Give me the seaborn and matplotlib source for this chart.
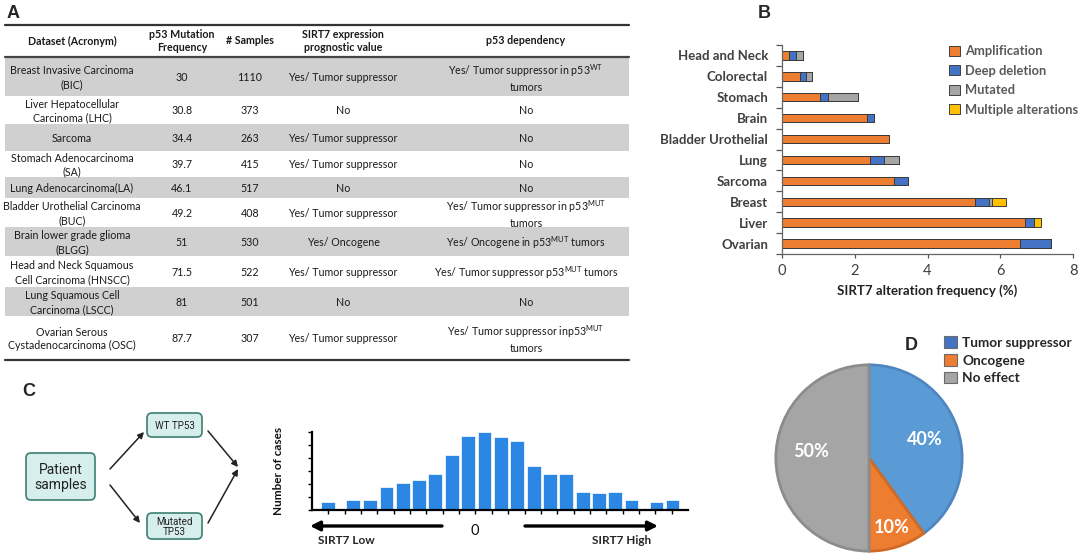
import numpy as np
import pandas as pd
import matplotlib
matplotlib.use("Agg")
import matplotlib.pyplot as plt
import seaborn as sns
from matplotlib.patches import FancyBboxPatch, Rectangle, Patch

# ---------------- data ----------------
# Panel A table
table_header = ["Dataset (Acronym)", "p53 Mutation\nFrequency", "# Samples",
                "SIRT7 expression\nprognostic value", "p53 dependency"]
datasets = ["Breast Invasive Carcinoma\n(BIC)", "Liver Hepatocellular\nCarcinoma (LHC)", "Sarcoma",
            "Stomach Adenocarcinoma\n(SA)", "Lung Adenocarcinoma(LA)",
            "Bladder Urothelial Carcinoma\n(BUC)", "Brain lower grade glioma\n(BLGG)",
            "Head and Neck Squamous\nCell Carcinoma (HNSCC)", "Lung Squamous Cell\nCarcinoma (LSCC)",
            "Ovarian Serous\nCystadenocarcinoma (OSC)"]
p53_mut_freq = ["30", "30.8", "34.4", "39.7", "46.1", "49.2", "51", "71.5", "81", "87.7"]
n_samples = ["1110", "373", "263", "415", "517", "408", "530", "522", "501", "307"]
prognostic = ["Yes/ Tumor suppressor", "No", "Yes/ Tumor suppressor", "Yes/ Tumor suppressor", "No",
              "Yes/ Tumor suppressor", "Yes/ Oncogene", "Yes/ Tumor suppressor", "No",
              "Yes/ Tumor suppressor"]
dependency = [r"Yes/ Tumor suppressor in p53$^{\mathrm{WT}}$" + "\ntumors", "No", "No", "No", "No",
              r"Yes/ Tumor suppressor in p53$^{\mathrm{MUT}}$" + "\ntumors",
              r"Yes/ Oncogene in p53$^{\mathrm{MUT}}$ tumors",
              r"Yes/ Tumor suppressor p53$^{\mathrm{MUT}}$ tumors", "No",
              r"Yes/ Tumor suppressor inp53$^{\mathrm{MUT}}$" + "\ntumors"]

# Panel B stacked bars
cancer_types = ["Head and Neck", "Colorectal", "Stomach", "Brain", "Bladder Urothelial",
                "Lung", "Sarcoma", "Breast", "Liver", "Ovarian"]
amplification = [0.18, 0.49, 1.04, 2.34, 2.94, 2.41, 3.08, 5.31, 6.68, 6.54]
deep_deletion = [0.20, 0.17, 0.22, 0.20, 0.00, 0.40, 0.39, 0.37, 0.25, 0.86]
mutated = [0.19, 0.16, 0.84, 0.00, 0.00, 0.40, 0.00, 0.09, 0.00, 0.00]
multiple_alt = [0.00, 0.00, 0.00, 0.00, 0.00, 0.00, 0.00, 0.40, 0.19, 0.00]
alteration_names = ["Amplification", "Deep deletion", "Mutated", "Multiple alterations"]

# Panel C histogram
sirt7_bins = [0, 1.53, 2.53, 3.55, 4.55, 5.55, 6.53, 7.55, 8.55, 9.55, 10.55, 11.53,
              12.57, 13.55, 14.53, 15.57, 16.55, 17.55, 18.55, 20.08, 21.06]
case_counts = [6, 8, 8, 18, 21, 23, 28, 42, 57, 60, 56, 53, 34, 28, 28, 14, 13, 14, 8, 6, 8]

# Panel D pie
effect_labels = ["Tumor suppressor", "Oncogene", "No effect"]
effect_pct = [40, 10, 50]

# ---------------- style ----------------
sns.set_theme(style="white")
plt.rcParams["font.family"] = ["Lato", "DejaVu Sans"]
plt.rcParams["mathtext.fontset"] = "custom"
plt.rcParams["mathtext.rm"] = "Lato"
plt.rcParams["mathtext.it"] = "Lato:italic"
plt.rcParams["mathtext.bf"] = "Lato:bold"

W, H = 1079, 555
fig = plt.figure(figsize=(W / 100, H / 100), dpi=100)
fig.patch.set_facecolor("white")


def fx(px):
    return px / W


def fy(py):
    return 1 - py / H


ov = fig.add_axes([0, 0, 1, 1])
ov.set_xlim(0, W)
ov.set_ylim(H, 0)
ov.axis("off")

# ---------------- Panel A: table ----------------
lab_font = dict(family=["Liberation Sans", "DejaVu Sans"], fontweight="bold", fontsize=13)
ov.text(7, 13, "A", ha="left", va="center", **lab_font)

tx0, tx1 = 5, 629
row_edges = [57, 96, 124, 151, 177, 198, 227, 256, 287, 316, 360]
col_x = [72, 182, 250, 343, 526]
tfs = 7.7
for i in range(len(datasets)):
    if i % 2 == 0:
        ov.add_patch(Rectangle((tx0, row_edges[i]), tx1 - tx0, row_edges[i + 1] - row_edges[i],
                               facecolor="#D0D0D0", edgecolor="none", zorder=1))
    yc = (row_edges[i] + row_edges[i + 1]) / 2 + 1
    row_vals = [datasets[i], p53_mut_freq[i], n_samples[i], prognostic[i], dependency[i]]
    for x, t in zip(col_x, row_vals):
        ov.text(x, yc, t, ha="center", va="center", fontsize=tfs, color="#1a1a1a",
                linespacing=1.3, zorder=3)
for x, t in zip(col_x, table_header):
    ov.text(x, 41, t, ha="center", va="center", fontsize=tfs, fontweight="bold",
            color="#1a1a1a", linespacing=1.25, zorder=3)
ov.plot([tx0, tx1], [25, 25], color="#333333", lw=1.6, zorder=4)
ov.plot([tx0, tx1], [57, 57], color="#444444", lw=1.6, zorder=4)
ov.plot([tx0, tx1], [360, 360], color="#333333", lw=1.6, zorder=4)

# ---------------- Panel B: stacked bars ----------------
ov.text(758, 13, "B", ha="left", va="center", **lab_font)
axB = fig.add_axes([fx(782), fy(254), fx(1073) - fx(782), (254 - 45) / H])
alt_df = pd.DataFrame({"cancer": cancer_types, "amp": amplification, "del": deep_deletion,
                       "mut": mutated, "multi": multiple_alt})
alt_df["c_multi"] = alt_df[["amp", "del", "mut", "multi"]].sum(axis=1)
alt_df["c_mut"] = alt_df[["amp", "del", "mut"]].sum(axis=1)
alt_df["c_del"] = alt_df[["amp", "del"]].sum(axis=1)
alt_df["c_amp"] = alt_df["amp"]
alt_colors = ["#ED7D31", "#4472C4", "#A5A5A5", "#FFC000"]
for col, c in zip(["c_multi", "c_mut", "c_del", "c_amp"], alt_colors[::-1]):
    sns.barplot(data=alt_df, x=col, y="cancer", orient="h", color=c, width=0.4,
                edgecolor="#3a3a3a", linewidth=0.7, saturation=1, ax=axB)
axB.set_xlim(0, 8)
axB.set_ylim(9.5, -0.5)
axB.set_xticks([0, 2, 4, 6, 8])
axB.set_xticklabels(["0", "2", "4", "6", "8"], fontsize=10.5, color="#404040")
axB.set_yticks(range(len(cancer_types)))
axB.set_yticklabels(cancer_types, fontsize=9.5, fontweight="bold", color="#404040")
axB.set_yticks(np.arange(-0.5, 10, 1), minor=True)
axB.tick_params(axis="y", which="major", length=0, pad=10)
axB.tick_params(axis="y", which="minor", length=4, width=0.9, color="#555555", direction="out", left=True)
axB.tick_params(axis="x", which="major", length=3, width=0.9, color="#555555", direction="out",
                bottom=True, pad=4)
axB.set_xlabel("SIRT7 alteration frequency (%)", fontsize=9.5, fontweight="bold", color="#222222",
               labelpad=5)
axB.set_ylabel("")
for s in ["top", "right"]:
    axB.spines[s].set_visible(False)
for s in ["left", "bottom"]:
    axB.spines[s].set_color("#666666")
    axB.spines[s].set_linewidth(0.9)
axB.set_facecolor("none")
b_handles = [Patch(facecolor=c, edgecolor="#404040", linewidth=0.7, label=l)
             for c, l in zip(alt_colors, alteration_names)]
legB = axB.legend(handles=b_handles, loc="upper left", bbox_to_anchor=(fx(944), fy(40)),
                  bbox_transform=fig.transFigure, frameon=False, handlelength=0.85,
                  handleheight=0.85, handletextpad=0.35, labelspacing=0.58, borderaxespad=0,
                  prop=dict(weight="bold", size=9.3))
for t in legB.get_texts():
    t.set_color("#595959")

# ---------------- Panel C: flow diagram + histogram ----------------
ov.text(22, 392, "C", ha="left", va="center", **lab_font)
box_fc, box_ec = "#D6EEEC", "#3D7F73"
rob = ["Roboto", "DejaVu Sans"]
boxes = [((26, 453), 69, 47, "Patient\nsamples", 10),
         ((147, 413), 55, 24, "WT TP53", 7),
         ((147, 513), 55, 26, "Mutated\nTP53", 7)]
for (x0, y0), w, h, label, fs in boxes:
    ov.add_patch(FancyBboxPatch((x0, y0), w, h, boxstyle="round,pad=0,rounding_size=5",
                                facecolor=box_fc, edgecolor=box_ec, lw=1.2, zorder=2))
    ov.text(x0 + w / 2, y0 + h / 2 + 1, label, ha="center", va="center", fontsize=fs,
            family=rob, color="#222222", linespacing=1.05, zorder=3)
flow_arrows = [((110, 469), (144, 432)), ((110, 485), (140, 523)),
               ((208, 431), (238, 467)), ((208, 523), (238, 469))]
for (xa, ya), (xb, yb) in flow_arrows:
    ov.annotate("", xy=(xb, yb), xytext=(xa, ya),
                arrowprops=dict(arrowstyle="-|>", color="#222222", lw=1.1, mutation_scale=9,
                                shrinkA=0, shrinkB=0))

axC = fig.add_axes([fx(312), fy(510), fx(688) - fx(312), (510 - 432) / H])
axC.bar(sirt7_bins, case_counts, width=0.84, color="#2B87E3", edgecolor="white", linewidth=0.5)
axC.set_xlim(-1, 22)
axC.set_ylim(0, 60)
axC.set_xticks(np.arange(0, 22, 1))
axC.set_yticks(np.arange(0, 61, 10))
axC.set_xticklabels([])
axC.set_yticklabels([])
axC.tick_params(axis="x", length=3, width=1, color="black", direction="out", bottom=True)
axC.tick_params(axis="y", length=3, width=1, color="black", direction="out", left=True)
for s in ["top", "right"]:
    axC.spines[s].set_visible(False)
for s in ["left", "bottom"]:
    axC.spines[s].set_color("black")
    axC.spines[s].set_linewidth(1.6)
axC.set_ylabel("Number of cases", fontsize=8.5, fontweight="bold", color="#111111")
axC.yaxis.set_label_coords(-0.075, 0.5)
axC.set_facecolor("none")

ov.annotate("", xy=(310, 526), xytext=(442, 526),
            arrowprops=dict(arrowstyle="-|>", color="black", lw=2.4, mutation_scale=14,
                            shrinkA=0, shrinkB=0))
ov.annotate("", xy=(658, 526), xytext=(525, 526),
            arrowprops=dict(arrowstyle="-|>", color="black", lw=2.4, mutation_scale=14,
                            shrinkA=0, shrinkB=0))
ov.text(475, 531, "0", ha="center", va="center", fontsize=10.5, color="#111111")
ov.text(318, 541, "SIRT7 Low", ha="left", va="center", fontsize=8.5, fontweight="bold")
ov.text(651, 541, "SIRT7 High", ha="right", va="center", fontsize=8.5, fontweight="bold")

# ---------------- Panel D: pie ----------------
ov.text(905, 345, "D", ha="left", va="center", **lab_font)
cx, cy, r = 869, 458, 95
axD = fig.add_axes([fx(cx - r), fy(cy + r), 2 * r / W, 2 * r / H])
pie_colors = ["#5B9BD5", "#ED7D31", "#A5A5A5"]
pie_edges = ["#4F86C0", "#D06A25", "#8C8C8C"]
wedges, _ = axD.pie(effect_pct, colors=pie_colors, startangle=90, counterclock=False,
                    wedgeprops=dict(linewidth=2))
for w_, ec in zip(wedges, pie_edges):
    w_.set_edgecolor(ec)
axD.set_xlim(-1.02, 1.02)
axD.set_ylim(-1.02, 1.02)
pct_dist = [0.63, 0.79, 0.62]
angle = 90.0
for pct, d in zip(effect_pct, pct_dist):
    mid = np.deg2rad(angle - pct * 3.6 / 2)
    axD.text(d * np.cos(mid), d * np.sin(mid) + (0.07 if pct == 50 else 0), f"{pct}%",
             ha="center", va="center", color="white", fontsize=13, fontweight="bold")
    angle -= pct * 3.6
d_handles = [Patch(facecolor=c, edgecolor="#6a6a6a", linewidth=0.8, label=l)
             for c, l in zip(["#4472C4", "#ED7D31", "#A5A5A5"], effect_labels)]
legD = axD.legend(handles=d_handles, loc="upper left", bbox_to_anchor=(fx(939), fy(331)),
                  bbox_transform=fig.transFigure, frameon=False, handlelength=0.9,
                  handleheight=0.9, handletextpad=0.4, labelspacing=0.4, borderaxespad=0,
                  prop=dict(weight="bold", size=9.8))

fig.savefig("out.png", dpi=100)
